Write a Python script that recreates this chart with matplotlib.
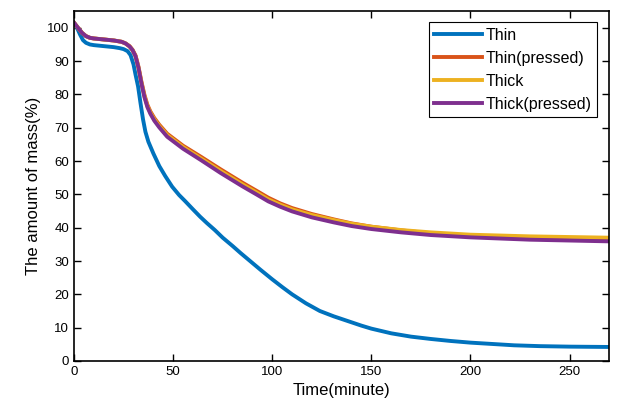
import matplotlib
matplotlib.use("Agg")
import matplotlib.pyplot as plt

plt.rcParams['font.family'] = ['Liberation Sans', 'DejaVu Sans']

# Thin sample
thin_t = [0, 1.5, 3, 4.5, 6, 8, 10, 15, 20, 23, 25, 27, 28.5, 30, 31, 32.3, 33.5, 34.8, 36,
          37.5, 40, 43, 46, 49.5, 53, 56, 60, 63.6, 67, 71, 75, 80, 84, 88, 94, 100, 105,
          110, 117, 124, 131, 139, 145, 150, 160, 170, 180, 190, 200, 211, 222, 235, 250, 270]
thin_m = [101.5, 100, 98, 96.3, 95.5, 95, 94.8, 94.5, 94.2, 93.9, 93.6, 93.0, 91.8, 89, 86,
          82.4, 77.5, 72.5, 68.8, 65.8, 62.3, 58.5, 55.5, 52.3, 49.8, 48, 45.5, 43.3, 41.4,
          39.3, 37, 34.5, 32.4, 30.4, 27.4, 24.5, 22.2, 20, 17.3, 15, 13.4, 11.8, 10.6, 9.7,
          8.3, 7.3, 6.6, 6, 5.5, 5.1, 4.7, 4.45, 4.3, 4.2]

# the other three samples share one time grid
t2 = [0, 2, 4, 6, 8, 10, 15, 20, 24, 26, 28, 29.5, 31, 32.5, 34, 35.5, 37, 38.5, 40.5, 43,
      47, 51, 55, 64, 74, 85, 92, 98, 104, 110, 120, 131, 140, 150, 165, 180, 200, 230, 270]
thin_p_m = [101.5, 100, 98.5, 97.5, 97, 96.8, 96.5, 96.2, 95.8, 95.3, 94.5, 93.4, 91.7, 88.3,
            83.8, 79.9, 76.9, 74.9, 72.9, 70.9, 68.2, 66.4, 64.6, 61.3, 57.5, 53.5, 51.1, 49,
            47.3, 45.9, 44.1, 42.5, 41.3, 40.3, 39.2, 38.3, 37.5, 36.9, 36.5]
thick_m = [101.5, 100, 98.5, 97.5, 97, 96.8, 96.5, 96.2, 95.8, 95.3, 94.4, 93.3, 91.5, 88,
           83.5, 79.5, 76.5, 74.5, 72.5, 70.5, 67.8, 66, 64.2, 60.8, 57, 53, 50.6, 48.5,
           46.9, 45.5, 43.8, 42.3, 41.2, 40.3, 39.3, 38.6, 37.9, 37.4, 37]
thick_p_m = [101.5, 100, 98.5, 97.5, 97, 96.8, 96.5, 96.2, 95.8, 95.3, 94.4, 93.3, 91.5, 88,
             83.3, 79.2, 76.2, 74.2, 72.1, 70.1, 67.3, 65.5, 63.7, 60.3, 56.4, 52.4, 50,
             47.9, 46.3, 44.9, 43.1, 41.6, 40.5, 39.6, 38.6, 37.8, 37.1, 36.4, 35.9]

labels = ['Thin', 'Thin(pressed)', 'Thick', 'Thick(pressed)']
colors = ['#0072BD', '#D95319', '#EDB120', '#7E2F8E']

fig = plt.figure(figsize=(6.44, 4.13), dpi=100)
ax = fig.add_axes([0.115, 0.126, 0.831, 0.847])

series = [(thin_t, thin_m), (t2, thin_p_m), (t2, thick_m), (t2, thick_p_m)]
for (t, m), lab, c in zip(series, labels, colors):
    ax.plot(t, m, color=c, lw=2.8, label=lab, solid_joinstyle='round')

ax.set_xlim(0, 270)
ax.set_ylim(0, 105)
ax.set_xticks(range(0, 251, 50))
ax.set_yticks(range(0, 101, 10))
ax.tick_params(direction='in', top=True, right=True, labelsize=9.5, length=5, width=1)
for s in ax.spines.values():
    s.set_linewidth(1.2)

ax.set_xlabel('Time(minute)', fontsize=12)
ax.set_ylabel('The amount of mass(%)', fontsize=12)

leg = ax.legend(loc='upper right', bbox_to_anchor=(0.977, 0.969), fontsize=11.5,
                handlelength=3.0, handletextpad=0.2, labelspacing=0.5,
                borderpad=0.35, borderaxespad=0, fancybox=False, framealpha=1)
leg.get_frame().set_edgecolor('black')
leg.get_frame().set_linewidth(0.8)

fig.savefig('out.png', dpi=100)
